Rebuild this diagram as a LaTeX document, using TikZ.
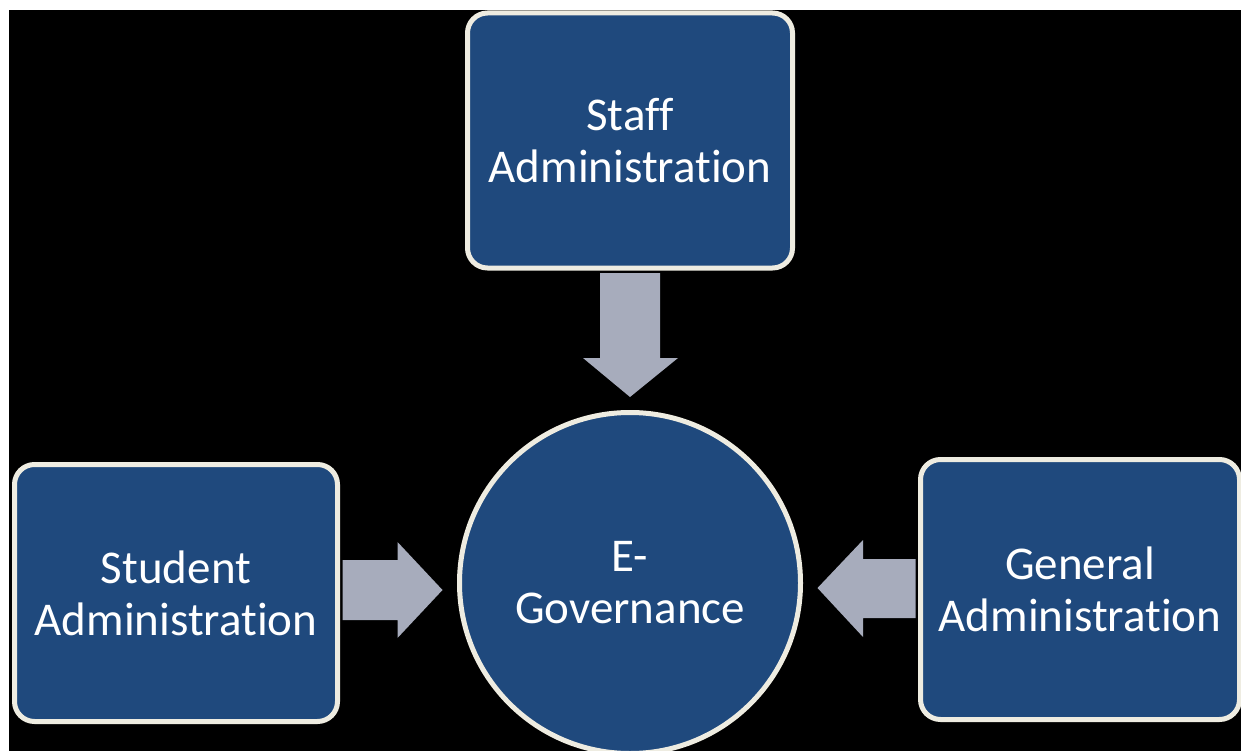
\documentclass[tikz,border=0pt]{standalone}
\usepackage{fontspec}
\setmainfont[Ligatures=NoCommon]{Carlito}
\usetikzlibrary{calc}
\definecolor{boxblue}{HTML}{1F497D}
\definecolor{cream}{HTML}{EEECE1}
\definecolor{arrowgray}{HTML}{A7ACBC}
\tikzset{
  box/.style={draw=cream, line width=5pt, fill=boxblue, rounded corners=20pt,
    text=white, align=center, font=\fontsize{47}{52}\selectfont, inner sep=0pt},
  hub/.style={draw=cream, line width=5pt, fill=boxblue, circle,
    text=white, align=center, font=\fontsize{47}{52}\selectfont, inner sep=0pt, minimum size=341pt},
  blockarrow/.style={fill=arrowgray, draw=none}
}
\begin{document}
\begin{tikzpicture}[x=1pt,y=-1pt]
\useasboundingbox (0,0) rectangle (1241,751);
\fill[white] (0,0) rectangle (1241,751);
\fill[black] (8.5,10) rectangle (1241,751);
\begin{scope}
\clip (8.5,10) rectangle (1241,751);
% nodes
\node[box, minimum width=325pt, minimum height=255pt] (staff) at (630,140.5) {Staff\\Administration};
\node[box, minimum width=323pt, minimum height=257pt] (student) at (176,593) {Student\\Administration};
\node[box, minimum width=319pt, minimum height=260pt] (general) at (1080,589.5) {General\\Administration};
\node[hub] (egov) at (630,583) {E-\\Governance};
% block arrows
\fill[blockarrow] ($(staff.south)+(-30,2.5)$) -- ++(0,85) -- ++(-17,0) -- ($(egov.north)+(0,-13)$) -- ($(staff.south)+(48,87.5)$) -- ++(-18,0) -- ++(0,-85) -- cycle;
\fill[blockarrow] ($(student.east)+(2.5,-33)$) -- ++(55,0) -- ++(0,-18) -- ($(egov.west)+(-14.5,7)$) -- ($(student.east)+(57.5,45)$) -- ++(0,-18) -- ++(-55,0) -- cycle;
\fill[blockarrow] ($(general.west)+(-2.5,-30.5)$) -- ++(-52.5,0) -- ++(0,-19) -- ($(egov.east)+(14.5,5)$) -- ($(general.west)+(-55,47.5)$) -- ++(0,-19) -- ++(52.5,0) -- cycle;
\end{scope}
\end{tikzpicture}
\end{document}
